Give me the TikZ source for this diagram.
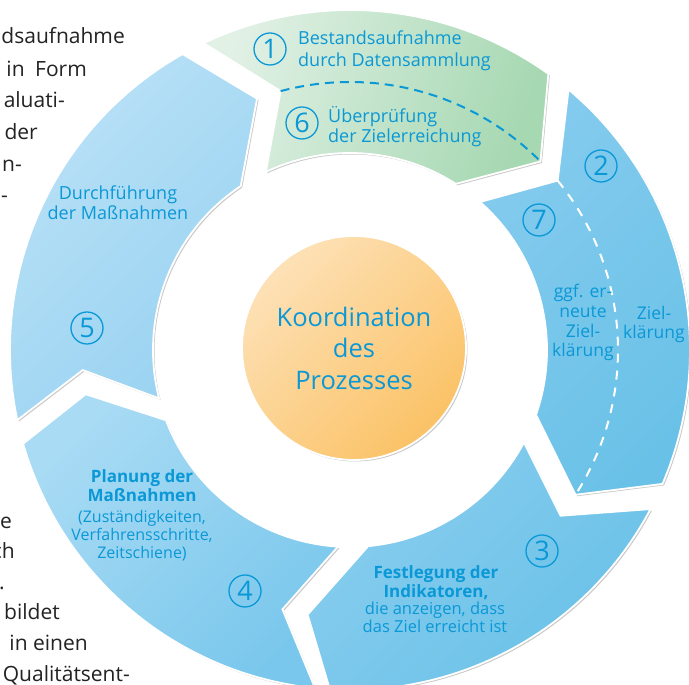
\documentclass[tikz,border=0pt]{standalone}
\usepackage{fontspec}
\setmainfont{Open Sans}
\usetikzlibrary{shadows}
\definecolor{txt}{RGB}{10,152,214}
\definecolor{body}{RGB}{35,35,35}
\definecolor{gA}{HTML}{E2F1E6}
\definecolor{gB}{HTML}{A6D8B2}
\definecolor{bA5}{HTML}{BBE2F7}
\definecolor{bB5}{HTML}{98D2F1}
\definecolor{bA4}{HTML}{A9DBF4}
\definecolor{bB4}{HTML}{79C7EC}
\definecolor{bA3}{HTML}{88CDEF}
\definecolor{bB3}{HTML}{69C1E7}
\definecolor{bA2}{HTML}{84CBEE}
\definecolor{bB2}{HTML}{69C1E7}
\definecolor{oA}{HTML}{FDE1B6}
\definecolor{oB}{HTML}{FBC266}
\newcommand\segpath[6]{(#1:340) arc[start angle=#1, end angle=#4, radius=340] -- (#5:268) -- (#6:197) arc[start angle=#6, end angle=#2, radius=197] -- (#3:268) -- cycle}
\begin{document}
\begin{tikzpicture}[x=1pt,y=1pt,
  segbox/.style={draw=white, line width=1.8pt, shading=axis,
     drop shadow={shadow xshift=1.5pt, shadow yshift=-1.5pt, opacity=0.35, fill=black!60}},
  num/.style={circle, draw=txt, line width=1.3pt, minimum size=32pt, inner sep=0pt,
     text=txt, font=\fontsize{27}{27}\selectfont},
  lbl/.style={text=txt, align=center, inner sep=0pt, anchor=base},
  bodytxt/.style={text=body, inner sep=0pt, anchor=base east, font=\fontsize{21}{21}\selectfont}]
\useasboundingbox (0,0) rectangle (689,685);
\fill[white] (0,0) rectangle (689,685);

% surrounding body text fragments
\node[bodytxt] (b1) at (125,641) {dsaufnahme};
\node[bodytxt] (b2) at (87,608) {in\hspace{0.5em}Form};
\node[bodytxt] (b3) at (65,577) {aluati-};
\node[bodytxt] (b4) at (38,545) {der};
\node[bodytxt] (b5) at (22,513) {n-};
\node[bodytxt] (b6) at (8,482) {-};
\node[bodytxt] (b7) at (12,156) {e};
\node[bodytxt] (b8) at (15,126) {ch};
\node[bodytxt] (b9) at (5,95) {.};
\node[bodytxt] (b10) at (60,65) {bildet};
\node[bodytxt] (b11) at (88,34) {in einen};
\node[bodytxt] (b12) at (130,3) {Qualitätsent-};

\begin{scope}[shift={(350,335)}]
  % segment 5 (left)
  \path[segbox, top color=bA5, bottom color=bB5, shading angle=45]
    \segpath{-168.1}{-165.8}{-175.7}{-240.5}{-249.7}{-236.3};
  % segment 4 (bottom left)
  \path[segbox, top color=bA4, bottom color=bB4, shading angle=45]
    \segpath{-95.9}{-93.5}{-104.6}{-164}{-170.5}{-159.1};
  % segment 3 (bottom right)
  \path[segbox, top color=bA3, bottom color=bB3, shading angle=45]
    \segpath{-27.9}{-28}{-38.2}{-93.4}{-99.1}{-84.7};
  % segment 2 (right)
  \path[segbox, top color=bA2, bottom color=bB2, shading angle=45]
    \segpath{50}{48.7}{39.2}{-23.2}{-32.7}{-19.2};
  % segment 1 (top, green)
  \path[segbox, top color=gA, bottom color=gB, shading angle=70]
    \segpath{115.5}{115.3}{105}{54.3}{44.7}{57.5};
  % dashed separators
  \draw[txt, line width=2pt, dash pattern=on 9pt off 6pt]
    (105:268) arc[start angle=105, end angle=44.7, radius=268];
  \draw[white, line width=2pt, dash pattern=on 9pt off 8pt]
    (39.2:268) arc[start angle=39.2, end angle=-32.7, radius=268];
\end{scope}

% centre circle
\node[circle, minimum size=224pt, inner sep=0pt, draw=white, line width=1.8pt,
      top color=oA, bottom color=oB, shading angle=45,
      drop shadow={shadow xshift=1.5pt, shadow yshift=-1.5pt, opacity=0.35, fill=black!60},
      text=txt, align=center, font=\fontsize{25.5}{31.5}\selectfont] (core) at (354,337)
      {Koordination\\des\\Prozesses};

% segment 1 / 6
\node[num] (n1) at (270,636) {1};
\node[lbl, anchor=base west, align=left, font=\fontsize{18}{21.5}\selectfont] (t1) at (298,618.5)
  {Bestandsaufnahme\\durch Datensammlung};
\node[num] (n6) at (302,562) {6};
\node[lbl, anchor=base west, align=left, font=\fontsize{18}{20}\selectfont] (t6) at (328,542)
  {Überprüfung\\der Zielerreichung};

% segment 2 / 7
\node[num] (n2) at (601,519) {2};
\node[num] (n7) at (539,465) {7};
\node[lbl, font=\fontsize{17.5}{19.7}\selectfont] (t7) at (583,328)
  {ggf. er-\\neute\\Ziel-\\klärung};
\node[lbl, font=\fontsize{17.5}{18.5}\selectfont] (t2) at (654,346.5)
  {Ziel-\\klärung};

% segment 3
\node[num] (n3) at (542,134) {3};
\node[lbl, font=\fontsize{17}{18.5}\bfseries\selectfont] (t3a) at (436,87.5)
  {Festlegung der\\Indikatoren,};
\node[lbl, font=\fontsize{16.5}{17.5}\selectfont] (t3b) at (435,52.5)
  {die anzeigen, dass\\das Ziel erreicht ist};

% segment 4
\node[num] (n4) at (245,94) {4};
\node[lbl, font=\fontsize{17}{19}\bfseries\selectfont] (t4a) at (142,183)
  {Planung der\\Maßnahmen};
\node[lbl, font=\fontsize{16}{18}\selectfont] (t4b) at (142,126)
  {(Zuständigkeiten,\\Verfahrensschritte,\\Zeitschiene)};

% segment 5
\node[num] (n5) at (87,357) {5};
\node[lbl, font=\fontsize{18}{20}\selectfont] (t5) at (118,465)
  {Durchführung\\der Maßnahmen};
\end{tikzpicture}
\end{document}
